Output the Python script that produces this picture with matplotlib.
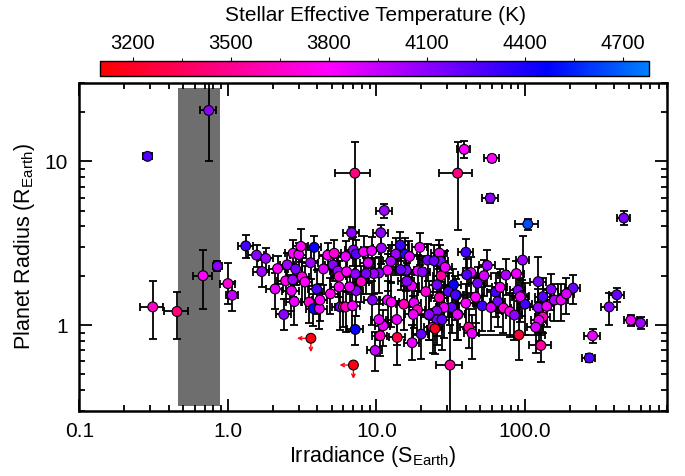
import numpy as np
import matplotlib
matplotlib.use("Agg")
import matplotlib.pyplot as plt
from matplotlib.colors import LinearSegmentedColormap, Normalize
from matplotlib.cm import ScalarMappable
from matplotlib.ticker import FixedLocator, FixedFormatter, NullFormatter, LogLocator

plt.rcParams['font.family'] = ['Liberation Sans', 'DejaVu Sans']
plt.rcParams['mathtext.fontset'] = 'custom'
plt.rcParams['mathtext.rm'] = 'Liberation Sans'
plt.rcParams['mathtext.it'] = 'Liberation Sans:italic'

# ---------------- data ----------------
irr = [0.288, 0.743, 0.312, 0.454, 0.68, 0.85, 1.00, 1.07, 1.32, 1.56, 1.69, 1.80,
       2.16, 2.08, 2.38, 2.45, 2.51, 2.68, 2.73, 2.75, 2.80, 2.86, 3.00, 3.10, 3.16, 3.30,
       3.52, 3.77, 3.81, 3.96, 4.13, 4.17, 4.70, 5.20, 5.10, 5.50, 5.60, 5.60, 5.70, 6.00,
       4.40, 3.60, 4.90,
       7.16, 35.2, 39.0, 60.0, 58.4, 11.3, 6.8, 10.7, 463.0, 104.5,
       40.0, 96.4, 55.7, 43.3, 40.5, 74.3, 87.5, 122.8, 63.4, 90.0, 95.0, 132.0, 46.5, 158.0,
       175.0, 211.0, 40.0, 51.5, 65.6, 59.0, 71.6, 79.0, 100.0, 93.0, 122.8, 132.0, 124.0, 118.0,
       41.8, 44.0, 91.0, 128.0, 35.5, 34.6, 369.0, 516.0, 600.0, 285.0, 271.0, 415.0, 31.3,
       20.0, 17.4, 13.8, 10.6, 11.1, 10.4, 9.8, 7.2,
       6.2, 7.0, 7.3, 8.2, 9.3, 10.8, 13.5, 14.5, 15.6, 16.7, 19.6, 26.5, 22.1, 27.0, 24.4,
       27.3, 33.0, 25.5, 30.5, 34.0, 26.5, 32.2, 28.5, 25.5, 25.5, 35.0, 22.6, 23.9, 24.8, 27.6,
       17.3, 19.0, 20.4, 15.9, 14.6, 11.9, 10.4, 9.6, 8.5, 7.2, 6.3, 7.9, 7.3, 6.6, 6.2, 6.9,
       9.4, 11.9, 12.6, 15.3, 17.9, 18.9, 17.7, 22.6, 13.7,
       8.8, 12.5, 16.0, 21.5, 29.0, 48.0, 53.0, 68.0, 85.0, 140.0, 150.0, 190.0]

rad = [10.7, 20.4, 1.29, 1.21, 2.00, 2.29, 1.79, 1.52, 3.04, 2.67, 2.12, 2.55,
       2.21, 1.66, 1.16, 1.86, 2.33, 1.62, 1.89, 2.74, 1.39, 2.20, 2.69, 3.02, 1.97, 1.83,
       1.38, 1.26, 2.98, 1.66, 1.26, 1.42, 2.67, 2.74, 2.33, 2.14, 1.98, 1.71, 1.29, 1.29,
       2.20, 2.40, 1.55,
       8.45, 8.45, 11.8, 10.4, 5.95, 5.0, 3.66, 3.66, 4.5, 4.13,
       2.78, 2.49, 2.31, 2.09, 2.03, 2.02, 2.06, 1.84, 1.59, 1.63, 1.51, 1.49, 1.48, 1.42,
       1.42, 1.68, 1.36, 1.31, 1.39, 1.28, 1.27, 1.21, 1.34, 1.49, 1.28, 1.12, 1.07, 0.97,
       0.97, 0.89, 0.87, 0.75, 1.16, 1.52, 1.29, 1.07, 1.03, 0.86, 0.63, 1.53, 0.57,
       0.88, 0.78, 0.84, 0.86, 0.99, 1.08, 0.70, 0.94,
       2.62, 2.87, 2.71, 2.80, 2.84, 2.95, 2.71, 3.08, 2.71, 2.62, 2.98, 2.75, 2.49, 2.45, 2.47,
       2.00, 1.76, 1.76, 1.60, 1.53, 1.47, 1.28, 1.28, 1.22, 1.08, 1.16, 1.15, 0.97, 0.95, 1.08,
       1.73, 2.14, 2.11, 2.16, 2.18, 2.16, 2.08, 2.06, 2.06, 2.05, 2.12, 1.84, 1.62, 1.71, 1.29, 1.31,
       1.42, 1.42, 1.38, 1.34, 1.37, 1.24, 1.16, 1.16, 1.08,
       2.40, 2.45, 1.85, 1.60, 2.25, 1.80, 2.00, 1.70, 1.15, 1.30, 1.65, 1.55]

teff = [4250, 4100, 3650, 3450, 3800, 4100, 3700, 3950, 4300, 4100, 4050, 4050,
        3800, 3850, 4100, 3750, 4050, 3850, 4050, 3800, 3850, 4150, 3850, 3800, 3750, 3800,
        3700, 4450, 4450, 4250, 3850, 3800, 3800, 3700, 4100, 4050, 3700, 3800, 4150, 3600,
        3900, 4050, 3750,
        3450, 3450, 3800, 3800, 4100, 4050, 4100, 4100, 4150, 4650,
        4300, 4050, 4050, 3850, 4250, 4000, 3850, 4150, 4300, 4100, 4050, 4250, 3800, 4000,
        3850, 4200, 3800, 4300, 4150, 3900, 3700, 3750, 4300, 3850, 4050, 3600, 3850, 3900,
        3550, 3850, 3250, 3550, 3850, 4250, 4100, 3850, 4050, 3850, 4250, 4200, 3550,
        4200, 3850, 3300, 3650, 3850, 3850, 3950, 4450,
        3850, 4100, 4250, 3800, 3850, 4050, 4050, 4300, 4350, 3850, 3850, 3850, 4150, 4100, 4200,
        3550, 4450, 4150, 4250, 4300, 3600, 4200, 3850, 4100, 4150, 3850, 3850, 3550, 3200, 4200,
        3850, 3850, 4100, 4100, 4200, 3800, 4100, 4050, 4150, 4100, 3800, 3650, 4100, 3850, 3600, 3800,
        4100, 3850, 3800, 3600, 3850, 3600, 3850, 4100, 3850,
        3900, 4000, 4100, 3700, 3850, 4150, 3900, 3800, 4100, 3850, 4100, 3900]

# fractional irradiance errors and fractional lower/upper radius errors
irr_ferr = [0.07, 0.12, 0.18, 0.18, 0.15, 0.07, 0.12, 0.09, 0.11, 0.12, 0.12, 0.11,
            0.12, 0.13, 0.12, 0.12, 0.11, 0.13, 0.12, 0.12, 0.12, 0.11, 0.12, 0.12, 0.12, 0.12,
            0.12, 0.11, 0.12, 0.12, 0.12, 0.12, 0.12, 0.11, 0.12, 0.12, 0.12, 0.12, 0.12, 0.12,
            0.12, 0.12, 0.12,
            0.26, 0.25, 0.10, 0.12, 0.12, 0.12, 0.12, 0.12, 0.10, 0.18,
            0.12, 0.10, 0.12, 0.12, 0.12, 0.12, 0.12, 0.12, 0.12, 0.12, 0.12, 0.12, 0.12, 0.12,
            0.12, 0.12, 0.12, 0.12, 0.12, 0.12, 0.12, 0.12, 0.12, 0.12, 0.12, 0.12, 0.12, 0.12,
            0.12, 0.12, 0.50, 0.17, 0.12, 0.12, 0.12, 0.10, 0.10, 0.12, 0.10, 0.12, 0.20,
            0.12, 0.12, 0.12, 0.12, 0.12, 0.12, 0.12, 0.12,
            0.12, 0.12, 0.12, 0.12, 0.12, 0.12, 0.12, 0.12, 0.12, 0.12, 0.12, 0.12, 0.12, 0.12, 0.12,
            0.12, 0.12, 0.12, 0.12, 0.12, 0.12, 0.12, 0.12, 0.12, 0.12, 0.12, 0.12, 0.12, 0.12, 0.12,
            0.12, 0.12, 0.12, 0.12, 0.12, 0.12, 0.12, 0.12, 0.12, 0.12, 0.12, 0.12, 0.12, 0.12, 0.12, 0.12,
            0.12, 0.12, 0.12, 0.12, 0.12, 0.12, 0.12, 0.12, 0.12,
            0.12, 0.12, 0.12, 0.12, 0.12, 0.12, 0.12, 0.12, 0.12, 0.12, 0.12, 0.12]

rad_flo = [0.03, 0.51, 0.36, 0.32, 0.37, 0.07, 0.25, 0.20, 0.16, 0.15, 0.19, 0.15,
           0.20, 0.25, 0.20, 0.22, 0.18, 0.25, 0.22, 0.20, 0.28, 0.20, 0.18, 0.20, 0.30, 0.25,
           0.25, 0.22, 0.18, 0.30, 0.25, 0.25, 0.18, 0.20, 0.20, 0.22, 0.25, 0.25, 0.28, 0.25,
           0.20, 0.20, 0.25,
           0.56, 0.55, 0.11, 0.05, 0.06, 0.10, 0.08, 0.40, 0.10, 0.08,
           0.20, 0.45, 0.25, 0.25, 0.25, 0.25, 0.20, 0.25, 0.30, 0.28, 0.25, 0.30, 0.30, 0.25,
           0.25, 0.20, 0.30, 0.30, 0.30, 0.28, 0.30, 0.30, 0.35, 0.30, 0.30, 0.20, 0.25, 0.30,
           0.25, 0.30, 0.30, 0.21, 0.30, 0.25, 0.22, 0.08, 0.08, 0.10, 0.06, 0.10, 0.50,
           0.30, 0.22, 0.32, 0.25, 0.25, 0.25, 0.25, 0.20,
           0.25, 0.20, 0.22, 0.25, 0.22, 0.20, 0.25, 0.20, 0.25, 0.25, 0.22, 0.20, 0.25, 0.25, 0.25,
           0.30, 0.25, 0.30, 0.30, 0.30, 0.35, 0.30, 0.35, 0.30, 0.30, 0.30, 0.30, 0.30, 0.30, 0.35,
           0.25, 0.25, 0.25, 0.25, 0.25, 0.25, 0.25, 0.25, 0.25, 0.25, 0.25, 0.25, 0.30, 0.25, 0.30, 0.30,
           0.30, 0.30, 0.30, 0.30, 0.30, 0.30, 0.30, 0.30, 0.30,
           0.25, 0.25, 0.30, 0.30, 0.25, 0.25, 0.25, 0.30, 0.30, 0.25, 0.25, 0.25]

rad_fhi = [0.03, 0.75, 0.43, 0.31, 0.44, 0.07, 0.34, 0.20, 0.16, 0.15, 0.17, 0.15,
           0.20, 0.25, 0.25, 0.22, 0.18, 0.25, 0.22, 0.20, 0.28, 0.20, 0.18, 0.28, 0.30, 0.25,
           0.25, 0.22, 0.18, 0.30, 0.25, 0.25, 0.18, 0.20, 0.20, 0.22, 0.25, 0.25, 0.28, 0.25,
           0.20, 0.20, 0.25,
           0.54, 0.54, 0.13, 0.05, 0.06, 0.10, 0.08, 0.12, 0.10, 0.08,
           0.20, 0.40, 0.25, 0.25, 0.25, 0.25, 0.20, 0.42, 0.30, 0.28, 0.25, 0.30, 0.30, 0.25,
           0.25, 0.20, 0.30, 0.30, 0.30, 0.28, 0.30, 0.30, 0.35, 0.30, 0.30, 0.30, 0.25, 0.30,
           0.30, 0.30, 0.60, 0.33, 0.30, 0.25, 0.22, 0.08, 0.08, 0.10, 0.06, 0.10, 0.75,
           0.30, 0.28, 0.30, 0.30, 0.25, 0.25, 0.30, 0.20,
           0.25, 0.20, 0.22, 0.25, 0.22, 0.20, 0.25, 0.20, 0.25, 0.25, 0.22, 0.20, 0.25, 0.25, 0.25,
           0.30, 0.25, 0.30, 0.30, 0.30, 0.35, 0.30, 0.35, 0.30, 0.30, 0.30, 0.30, 0.30, 0.30, 0.35,
           0.25, 0.25, 0.25, 0.25, 0.25, 0.25, 0.25, 0.25, 0.25, 0.25, 0.25, 0.25, 0.30, 0.25, 0.30, 0.30,
           0.30, 0.30, 0.30, 0.30, 0.30, 0.30, 0.30, 0.30, 0.30,
           0.25, 0.25, 0.30, 0.30, 0.25, 0.25, 0.25, 0.30, 0.30, 0.25, 0.25, 0.25]

# upper limits (red points with arrows)
lim_irr = [3.62, 7.0]
lim_rad = [0.83, 0.57]
lim_teff = [3150, 3150]

# shaded band
band_irr = [0.46, 0.885]
band_rad = [0.32, 28.0]

teff_range = [3100, 4780]
cbar_ticks = [3200, 3500, 3800, 4100, 4400, 4700]
cbar_minor = [3350, 3650, 3950, 4250, 4550]
x_ticks = [0.1, 1.0, 10.0, 100.0]
x_ticklabels = ['0.1', '1.0', '10.0', '100.0']
y_ticks = [1, 10]
y_ticklabels = ['1', '10']

# ---------------- figure ----------------
fig = plt.figure(figsize=(6.85, 4.76), dpi=100)
ax = fig.add_axes([0.1158, 0.1372, 0.8575, 0.6884])
cax = fig.add_axes([0.146, 0.8403, 0.8019, 0.0315])

cmap = LinearSegmentedColormap.from_list(
    'teff', [(0.0, (1, 0, 0)), (0.4167, (1, 0, 1)), (0.8155, (0, 0, 1)), (1.0, (0, 0.5, 1))])
norm = Normalize(teff_range[0], teff_range[1])

irr_a = np.array(irr); rad_a = np.array(rad)
xerr = np.array(irr_ferr) * irr_a
yerr = np.vstack([np.array(rad_flo) * rad_a, np.array(rad_fhi) * rad_a])

ax.fill_betweenx(band_rad, band_irr[0], band_irr[1], color='#6e6e6e', lw=0, zorder=1)

ax.errorbar(irr_a, rad_a, xerr=xerr, yerr=yerr, fmt='none', ecolor='black',
            elinewidth=1.3, capsize=3, capthick=1.3, zorder=2)
ax.scatter(irr_a, rad_a, c=teff, cmap=cmap, norm=norm, s=50, edgecolors='black',
           linewidths=0.8, zorder=3)

# upper limits
ax.scatter(lim_irr, lim_rad, c=lim_teff, cmap=cmap, norm=norm, s=50,
           edgecolors='black', linewidths=0.8, zorder=3)
for xi, yi, ti in zip(lim_irr, lim_rad, lim_teff):
    col = cmap(norm(ti))
    ax.annotate('', xy=(xi, yi), xytext=(-10, 0), textcoords='offset points',
                arrowprops=dict(arrowstyle='<-', color=col, lw=1.0, mutation_scale=6,
                                shrinkA=0, shrinkB=4), zorder=2)
    ax.annotate('', xy=(xi, yi), xytext=(0, -10), textcoords='offset points',
                arrowprops=dict(arrowstyle='<-', color=col, lw=1.0, mutation_scale=6,
                                shrinkA=0, shrinkB=4), zorder=2)

ax.set_xscale('log'); ax.set_yscale('log')
ax.set_xlim(0.1, 900); ax.set_ylim(0.3, 30)

ax.xaxis.set_major_locator(FixedLocator(x_ticks))
ax.xaxis.set_major_formatter(FixedFormatter(x_ticklabels))
ax.xaxis.set_minor_locator(LogLocator(base=10, subs=np.arange(2, 10)))
ax.xaxis.set_minor_formatter(NullFormatter())
ax.yaxis.set_major_locator(FixedLocator(y_ticks))
ax.yaxis.set_major_formatter(FixedFormatter(y_ticklabels))
ax.yaxis.set_minor_locator(LogLocator(base=10, subs=np.arange(2, 10)))
ax.yaxis.set_minor_formatter(NullFormatter())

ax.tick_params(which='both', direction='in', top=True, right=True, width=1.3, colors='black')
ax.tick_params(which='major', length=9, labelsize=15, pad=8)
ax.tick_params(which='minor', length=4.5)
for s in ax.spines.values():
    s.set_linewidth(1.8)

ax.set_xlabel(r'Irradiance (S$_{\mathrm{Earth}}$)', fontsize=15.5, labelpad=2)
ax.set_ylabel(r'Planet Radius (R$_{\mathrm{Earth}}$)', fontsize=15.5, labelpad=6)

sm = ScalarMappable(norm=norm, cmap=cmap)
cb = fig.colorbar(sm, cax=cax, orientation='horizontal')
cb.outline.set_linewidth(1.0)
cax.xaxis.set_ticks_position('top')
cax.xaxis.set_label_position('top')
cb.set_ticks(cbar_ticks)
cb.set_ticklabels([str(t) for t in cbar_ticks])
cax.xaxis.set_minor_locator(FixedLocator(cbar_minor))
cax.tick_params(which='major', direction='out', length=3, width=0.8, labelsize=14.5, pad=3)
cax.tick_params(which='minor', direction='out', length=2, width=0.6)
fig.text(0.548, 0.967, 'Stellar Effective Temperature (K)', ha='center', va='center',
         fontsize=15)

fig.savefig('out.png', dpi=100)
